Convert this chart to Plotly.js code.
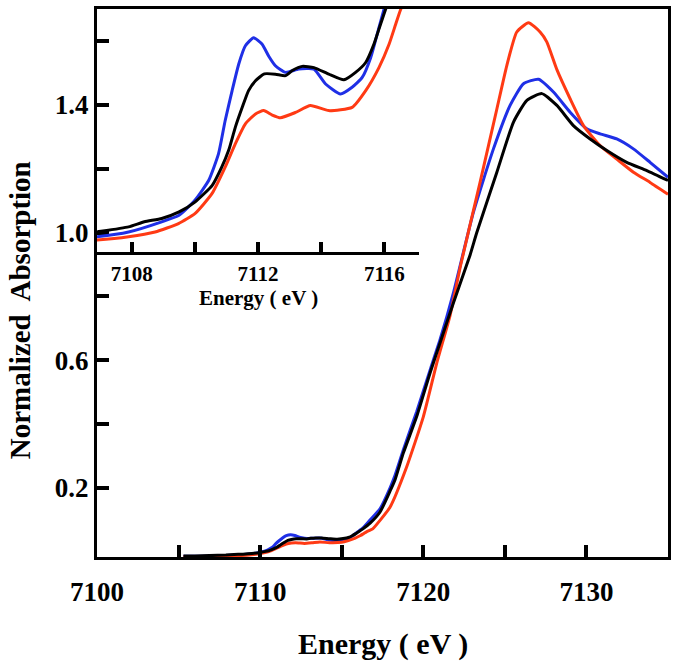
<!DOCTYPE html>
<html>
<head>
<meta charset="utf-8">
<script src="https://cdn.plot.ly/plotly-3.0.1.min.js"></script>
<style>html,body{margin:0;padding:0;background:#fff;}#chart{width:678px;height:663px;}</style>
</head>
<body>
<div id="chart"></div>
<script>
// Energy (eV) and normalized absorption for the three spectra
var energyBlack = [7105.3,7106.0,7106.9,7107.9,7108.4,7108.95,7109.5,7110.0,7110.55,7110.85,7111.07,7111.28,7111.5,7111.7,7111.92,7112.2,7112.55,7112.87,7113.1,7113.4,7113.77,7114.24,7114.72,7115.09,7115.41,7115.67,7115.88,7116.04,7116.3,7116.74,7117.35,7117.96,7118.27,7118.78,7119.6,7120.42,7121.03,7121.85,7122.87,7123.28,7124.51,7125.53,7126.35,7127.27,7128.19,7129.2,7130.23,7131.25,7132.47,7133.7,7135.0];
var absBlack = [-0.013,-0.013,-0.0116,-0.0099,-0.0082,-0.0071,-0.0049,-0.0016,0.004,0.0101,0.0157,0.0234,0.0301,0.0357,0.039,0.0413,0.0412,0.0407,0.0425,0.0438,0.0434,0.0412,0.0393,0.0418,0.0451,0.0512,0.0579,0.0629,0.072,0.09,0.125,0.19,0.226,0.31,0.4245,0.561,0.655,0.78,0.93,1.0,1.189,1.346,1.414,1.435,1.398,1.335,1.293,1.257,1.22,1.194,1.163];

var energyBlue = [7105.3,7106.0,7106.9,7107.9,7108.95,7109.5,7110.0,7110.44,7110.75,7110.96,7111.18,7111.39,7111.6,7111.86,7112.13,7112.35,7112.55,7112.87,7113.29,7113.77,7114.14,7114.61,7114.98,7115.3,7115.57,7115.83,7115.99,7116.3,7116.74,7117.35,7117.96,7118.27,7118.78,7119.6,7120.42,7121.03,7121.85,7123.07,7124.3,7125.32,7126.14,7127.06,7127.98,7129.0,7130.02,7130.84,7131.86,7132.88,7133.9,7135.0];
var absBlue = [-0.014,-0.014,-0.0132,-0.0116,-0.0082,-0.006,-0.001,0.0057,0.0146,0.0257,0.0357,0.0446,0.0507,0.0534,0.0512,0.047,0.044,0.0418,0.0429,0.0429,0.0379,0.0346,0.0368,0.0401,0.0468,0.0568,0.0629,0.075,0.1,0.135,0.2,0.24,0.32,0.44,0.57,0.665,0.812,1.063,1.262,1.398,1.466,1.48,1.44,1.377,1.325,1.309,1.293,1.262,1.22,1.173];

var energyRed = [7105.3,7106.0,7106.9,7107.9,7108.74,7109.48,7110.01,7110.54,7110.96,7111.28,7111.6,7111.92,7112.18,7112.45,7112.71,7113.19,7113.66,7114.24,7114.98,7115.41,7115.83,7116.15,7116.36,7116.52,7116.74,7116.9,7117.96,7118.99,7120.01,7120.83,7121.64,7122.3,7123.48,7124.51,7125.12,7125.73,7126.45,7127.16,7127.57,7128.19,7129.0,7129.82,7130.84,7131.86,7132.88,7133.9,7135.0];
var absRed = [-0.015,-0.0148,-0.0143,-0.0132,-0.0116,-0.0088,-0.0054,0.0012,0.0101,0.0179,0.0246,0.0279,0.029,0.0275,0.0266,0.0284,0.0307,0.029,0.0301,0.0357,0.0434,0.0512,0.0579,0.0629,0.068,0.072,0.14,0.2675,0.4245,0.592,0.74,0.90,1.157,1.387,1.523,1.628,1.657,1.628,1.597,1.51,1.419,1.335,1.272,1.23,1.189,1.157,1.12];

// Tick labels
var mainXTicks = [7100,7105,7110,7115,7120,7125,7130];
var mainXLabels = ["7100","","7110","","7120","","7130"];
var mainYTicks = [0.2,0.4,0.6,0.8,1.0,1.2,1.4,1.6];
var mainYLabels = ["0.2","","0.6","","1.0","","1.4",""];
var insetXTicks = [7108,7110,7112,7114,7116];
var insetXLabels = ["7108","","7112","","7116"];

var cBlue = "#1f2fe6", cRed = "#ff3a14", cBlack = "#000000";
var serif = "Liberation Serif, Times New Roman, serif";

function tr(x, y, c, xa, ya, w) {
  return {x: x, y: y, type: "scatter", mode: "lines", xaxis: xa, yaxis: ya,
          line: {color: c, width: w, shape: "spline", smoothing: 0.5},
          hoverinfo: "skip", showlegend: false};
}

var data = [
  tr(energyBlue, absBlue, cBlue, "x", "y", 3),
  tr(energyRed, absRed, cRed, "x", "y", 3),
  tr(energyBlack, absBlack, cBlack, "x", "y", 3),
  tr(energyBlue, absBlue, cBlue, "x2", "y2", 3),
  tr(energyRed, absRed, cRed, "x2", "y2", 3),
  tr(energyBlack, absBlack, cBlack, "x2", "y2", 3)
];

var layout = {
  width: 678, height: 663,
  margin: {l: 97, r: 10, t: 9, b: 106},
  paper_bgcolor: "#ffffff", plot_bgcolor: "rgba(255,255,255,0)",
  showlegend: false,
  xaxis: {
    domain: [0, 1], range: [7100, 7135], anchor: "y",
    tickmode: "array", tickvals: mainXTicks, ticktext: mainXLabels,
    ticks: "inside", ticklen: 12, tickwidth: 4, tickcolor: "#000000",
    showline: true, linewidth: 3, linecolor: "#000000", mirror: true,
    showgrid: false, zeroline: false, ticklabelstandoff: 9,
    tickfont: {family: serif, size: 27, weight: "bold", color: "#000"}
  },
  yaxis: {
    domain: [0, 1], range: [-0.016, 1.70], anchor: "x",
    tickmode: "array", tickvals: mainYTicks, ticktext: mainYLabels,
    ticks: "inside", ticklen: 12, tickwidth: 4, tickcolor: "#000000",
    showline: true, linewidth: 3, linecolor: "#000000", mirror: true,
    showgrid: false, zeroline: false,
    tickfont: {family: serif, size: 27, weight: "bold", color: "#000"}
  },
  xaxis2: {
    domain: [0, 0.564], range: [7106.9, 7117.1], anchor: "y2",
    tickmode: "array", tickvals: insetXTicks, ticktext: insetXLabels,
    ticks: "inside", ticklen: 10, tickwidth: 4, tickcolor: "#000000",
    showline: true, linewidth: 3, linecolor: "#000000", mirror: false,
    showgrid: false, zeroline: false, ticklabelstandoff: 1,
    tickfont: {family: serif, size: 21, weight: "bold", color: "#000"}
  },
  yaxis2: {
    domain: [0.5566, 1], range: [-0.0183, 0.063], anchor: "x2",
    showline: false, showticklabels: false, ticks: "",
    showgrid: false, zeroline: false
  },
  annotations: [
    {text: "Energy ( eV )", xref: "paper", yref: "paper", x: 0.5, y: -0.158,
     xanchor: "center", yanchor: "middle", showarrow: false,
     font: {family: serif, size: 30, weight: "bold", color: "#000"}},
    {text: "Normalized\u00a0 Absorption", xref: "paper", yref: "paper", x: -0.135, y: 0.45,
     xanchor: "center", yanchor: "middle", showarrow: false, textangle: -90,
     font: {family: serif, size: 29, weight: "bold", color: "#000"}},
    {text: "Energy ( eV )", xref: "paper", yref: "paper", x: 0.282, y: 0.473,
     xanchor: "center", yanchor: "middle", showarrow: false,
     font: {family: serif, size: 21, weight: "bold", color: "#000"}}
  ]
};

Plotly.newPlot("chart", data, layout, {staticPlot: true, displayModeBar: false});
</script>
</body>
</html>
